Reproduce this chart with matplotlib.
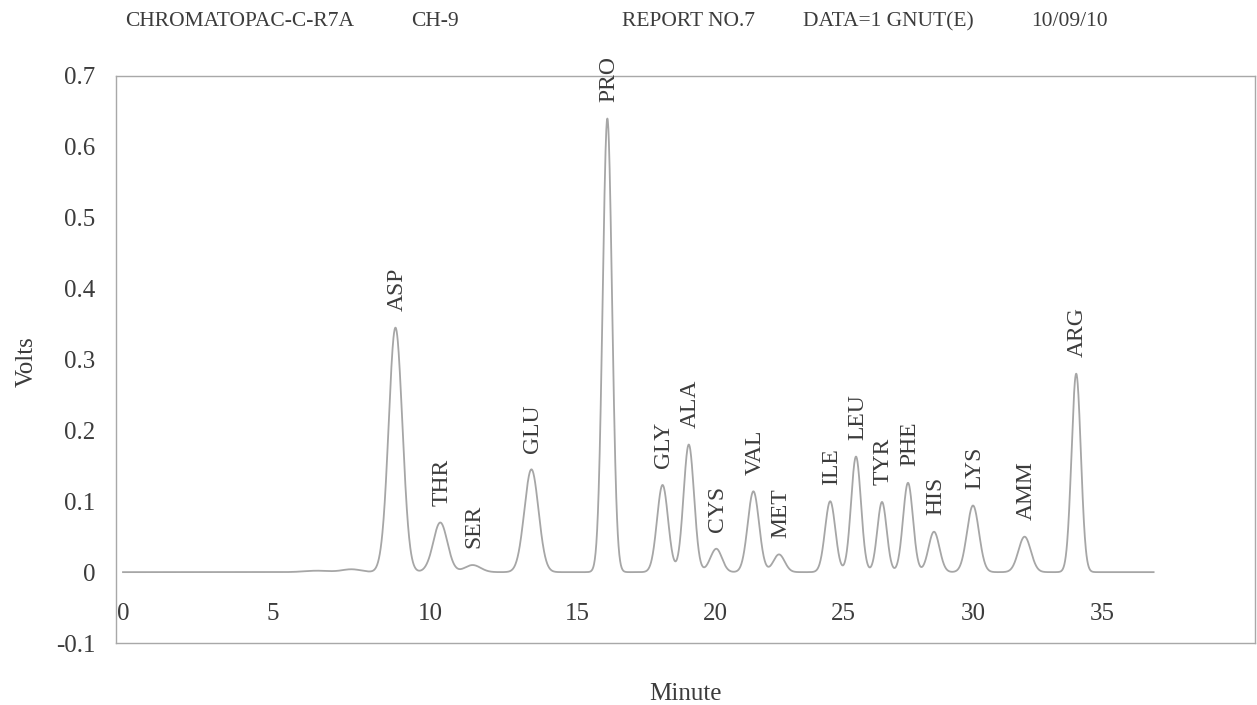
import numpy as np
import matplotlib
matplotlib.use("Agg")
import matplotlib.pyplot as plt

# Peak table (minutes, volts, peak width in minutes)
peak_names = ["ASP", "THR", "SER", "GLU", "PRO", "GLY", "ALA", "CYS", "VAL",
              "MET", "ILE", "LEU", "TYR", "PHE", "HIS", "LYS", "AMM", "ARG"]
peak_times = [8.9, 10.35, 11.45, 13.45, 16.1, 18.1, 19.05, 20.05, 21.5,
              22.5, 24.5, 25.5, 26.5, 27.5, 28.5, 30.0, 32.0, 34.0]
peak_heights = [0.345, 0.070, 0.010, 0.145, 0.640, 0.123, 0.180, 0.033, 0.114,
                0.025, 0.100, 0.163, 0.099, 0.126, 0.057, 0.094, 0.050, 0.280]
peak_widths = [0.22, 0.24, 0.27, 0.24, 0.17, 0.20, 0.19, 0.22, 0.22,
               0.22, 0.20, 0.19, 0.18, 0.19, 0.21, 0.23, 0.24, 0.18]

# small unlabelled baseline features
drift_times = [6.4, 7.5, 8.6]
drift_heights = [0.002, 0.004, -0.005]
drift_widths = [0.4, 0.3, 0.1]

run_start, run_end = 0.0, 37.0

minute_ticks = [0, 5, 10, 15, 20, 25, 30, 35]
volt_ticks = [-0.1, 0, 0.1, 0.2, 0.3, 0.4, 0.5, 0.6, 0.7]

header = ["CHROMATOPAC-C-R7A", "CH-9", "REPORT NO.7", "DATA=1 GNUT(E)", "10/09/10"]
header_x = [240, 435, 689, 888, 1069]

# the printed time axis is not evenly spaced, warp it to match
warp_min = [-5, 0, 5, 10, 15, 20, 25, 30, 35, 45]
warp_pos = [-27, 123, 273, 430, 577, 715, 843, 973, 1102, 1360]


def forward(x):
    return np.interp(x, warp_min, warp_pos)


def inverse(p):
    return np.interp(p, warp_pos, warp_min)


def build_trace(t):
    y = np.zeros_like(t)
    for c, h, w in zip(peak_times + drift_times, peak_heights + drift_heights,
                       peak_widths + drift_widths):
        y += h * np.exp(-0.5 * ((t - c) / w) ** 2)
    return y


plt.rcParams["font.family"] = ["Liberation Serif", "DejaVu Serif"]
text_col = "#3c3c3c"

fig = plt.figure(figsize=(12.57, 7.05), dpi=100)
ax = fig.add_axes([116 / 1257, 62 / 705, 1139 / 1257, 567 / 705])
ax.set_xscale("function", functions=(forward, inverse))

t = np.linspace(run_start, run_end, 4000)
ax.plot(t, build_trace(t), color="#a6a6a6", lw=1.3)

for name, c, h in zip(peak_names, peak_times, peak_heights):
    ax.annotate(name, (c, h), xytext=(1, 12), textcoords="offset points",
                rotation=90, ha="center", va="bottom", fontsize=17,
                color=text_col)

ax.set_xlim(inverse(116), inverse(1255))
ax.set_ylim(-0.1, 0.7)
ax.set_xticks(minute_ticks)
ax.set_xticklabels([str(v) for v in minute_ticks])
ax.set_yticks(volt_ticks)
ax.set_yticklabels(["-0.1", "0", "0.1", "0.2", "0.3", "0.4", "0.5", "0.6", "0.7"])
ax.minorticks_off()
ax.tick_params(axis="x", length=0, pad=-29, labelsize=18, labelcolor=text_col)
ax.tick_params(axis="y", length=0, pad=15, labelsize=18, labelcolor=text_col)

for s in ax.spines.values():
    s.set_color("#a8a8a8")
    s.set_linewidth(1.0)

for txt, px in zip(header, header_x):
    fig.text(px / 1257, 1 - 22 / 705, txt, ha="center", va="center",
             fontsize=15.5, color=text_col)

fig.text(27 / 1257, 1 - 362 / 705, "Volts", rotation=90, ha="center",
         va="center", fontsize=18, color=text_col)
fig.text(685 / 1257, 1 - 694 / 705, "Minute", ha="center", va="center",
         fontsize=18, color=text_col)

fig.savefig("out.png", dpi=100)
